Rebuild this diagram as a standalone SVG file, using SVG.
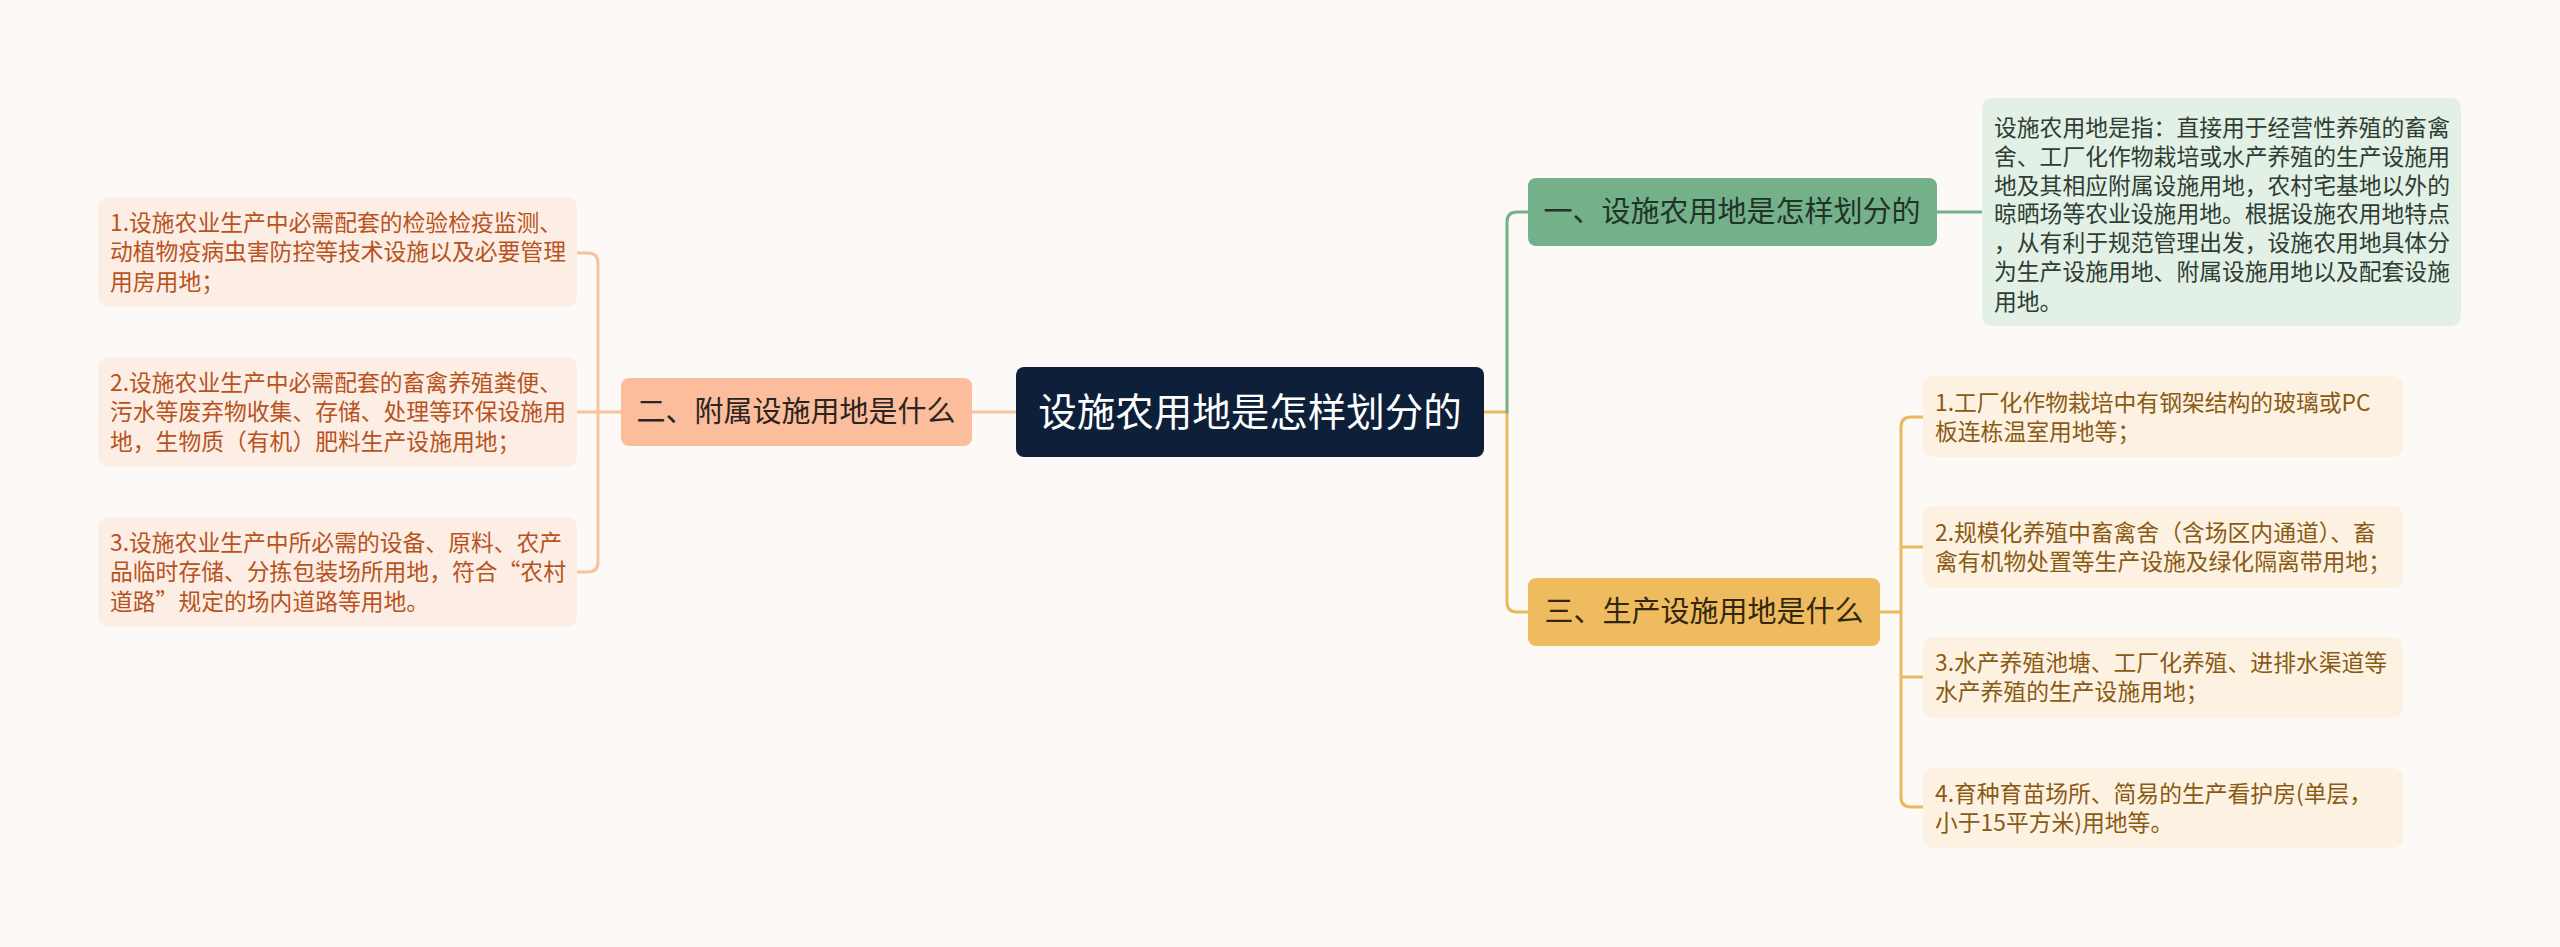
<svg xmlns="http://www.w3.org/2000/svg" width="2560" height="947" viewBox="0 0 2560 947">
<style>
text{font-family:"Noto Sans CJK SC","Noto Sans",sans-serif;}
.leaf{font-size:22.8px;}
.lt{fill:#b8531e;}
.gt{fill:#2f3d33;}
.rt{fill:#8a5a14;}
.topic{font-size:29px;}
.c{fill:none;stroke-width:3;stroke-linecap:round;}
</style>
<rect width="2560" height="947" fill="#fdf9f7"/>
<g id="connectors">
<path class="c" stroke="#f6c3a0" d="M1016,412 H973"/>
<path class="c" stroke="#f6c3a0" d="M621,412 H598 M577,253 H588 Q598,253 598,263 V562 Q598,572 588,572 H577 M577,412 H598"/>
<path class="c" stroke="#e9b95c" d="M1484,412 H1507 V602 Q1507,612 1517,612 H1528"/>
<path class="c" stroke="#74b08a" d="M1507,412 V222 Q1507,212 1517,212 H1528"/>
<path class="c" stroke="#74b08a" d="M1937,212 H1982"/>
<path class="c" stroke="#e9b95c" d="M1880,612 H1901 M1923,417 H1911 Q1901,417 1901,427 V797 Q1901,807 1911,807 H1923 M1901,547 H1923 M1901,677 H1923"/>
</g>
<g id="root">
<rect x="1016" y="367" width="468" height="90" rx="8" fill="#0e1f3a"/>
<text x="1250" y="426" font-size="38.5" fill="#ffffff" text-anchor="middle">设施农用地是怎样划分的</text>
</g>
<g id="n2">
<rect x="621" y="378" width="351" height="68" rx="8" fill="#fbbd9b"/>
<text class="topic" x="796" y="422" fill="#2b2420" text-anchor="middle">二、附属设施用地是什么</text>
</g>
<g id="n2-1">
<rect x="98" y="197" width="479" height="110" rx="10" fill="#fdeee5"/>
<text class="leaf lt"><tspan x="110" y="231">1.设施农业生产中必需配套的检验检疫监测、</tspan><tspan x="110" y="260">动植物疫病虫害防控等技术设施以及必要管理</tspan><tspan x="110" y="290">用房用地；</tspan></text>
</g>
<g id="n2-2">
<rect x="98" y="357" width="479" height="110" rx="10" fill="#fdeee5"/>
<text class="leaf lt"><tspan x="110" y="391">2.设施农业生产中必需配套的畜禽养殖粪便、</tspan><tspan x="110" y="420">污水等废弃物收集、存储、处理等环保设施用</tspan><tspan x="110" y="450">地，生物质（有机）肥料生产设施用地；</tspan></text>
</g>
<g id="n2-3">
<rect x="98" y="517" width="479" height="110" rx="10" fill="#fdeee5"/>
<text class="leaf lt"><tspan x="110" y="551">3.设施农业生产中所必需的设备、原料、农产</tspan><tspan x="110" y="580">品临时存储、分拣包装场所用地，符合“农村</tspan><tspan x="110" y="610">道路”规定的场内道路等用地。</tspan></text>
</g>
<g id="n1">
<rect x="1528" y="178" width="409" height="68" rx="8" fill="#74b08a"/>
<text class="topic" x="1732" y="222" fill="#1f3326" text-anchor="middle">一、设施农用地是怎样划分的</text>
</g>
<g id="n1-1">
<rect x="1982" y="98" width="479" height="228" rx="10" fill="#e2f0e6"/>
<text class="leaf gt"><tspan x="1994" y="136">设施农用地是指：直接用于经营性养殖的畜禽</tspan><tspan x="1994" y="165">舍、工厂化作物栽培或水产养殖的生产设施用</tspan><tspan x="1994" y="194">地及其相应附属设施用地，农村宅基地以外的</tspan><tspan x="1994" y="222">晾晒场等农业设施用地。根据设施农用地特点</tspan><tspan x="1994" y="251">，从有利于规范管理出发，设施农用地具体分</tspan><tspan x="1994" y="280">为生产设施用地、附属设施用地以及配套设施</tspan><tspan x="1994" y="310">用地。</tspan></text>
</g>
<g id="n3">
<rect x="1528" y="578" width="352" height="68" rx="8" fill="#efbb5f"/>
<text class="topic" x="1704" y="622" fill="#33260f" text-anchor="middle">三、生产设施用地是什么</text>
</g>
<g id="n3-1">
<rect x="1923" y="376" width="480" height="81" rx="10" fill="#fdf2e2"/>
<text class="leaf rt"><tspan x="1935" y="411">1.工厂化作物栽培中有钢架结构的玻璃或PC</tspan><tspan x="1935" y="440">板连栋温室用地等；</tspan></text>
</g>
<g id="n3-2">
<rect x="1923" y="506" width="480" height="82" rx="10" fill="#fdf2e2"/>
<text class="leaf rt"><tspan x="1935" y="541">2.规模化养殖中畜禽舍（含场区内通道）、畜</tspan><tspan x="1935" y="570">禽有机物处置等生产设施及绿化隔离带用地；</tspan></text>
</g>
<g id="n3-3">
<rect x="1923" y="637" width="480" height="81" rx="10" fill="#fdf2e2"/>
<text class="leaf rt"><tspan x="1935" y="671">3.水产养殖池塘、工厂化养殖、进排水渠道等</tspan><tspan x="1935" y="700">水产养殖的生产设施用地；</tspan></text>
</g>
<g id="n3-4">
<rect x="1923" y="768" width="480" height="80" rx="10" fill="#fdf2e2"/>
<text class="leaf rt"><tspan x="1935" y="802">4.育种育苗场所、简易的生产看护房(单层，</tspan><tspan x="1935" y="831">小于15平方米)用地等。</tspan></text>
</g>
</svg>
